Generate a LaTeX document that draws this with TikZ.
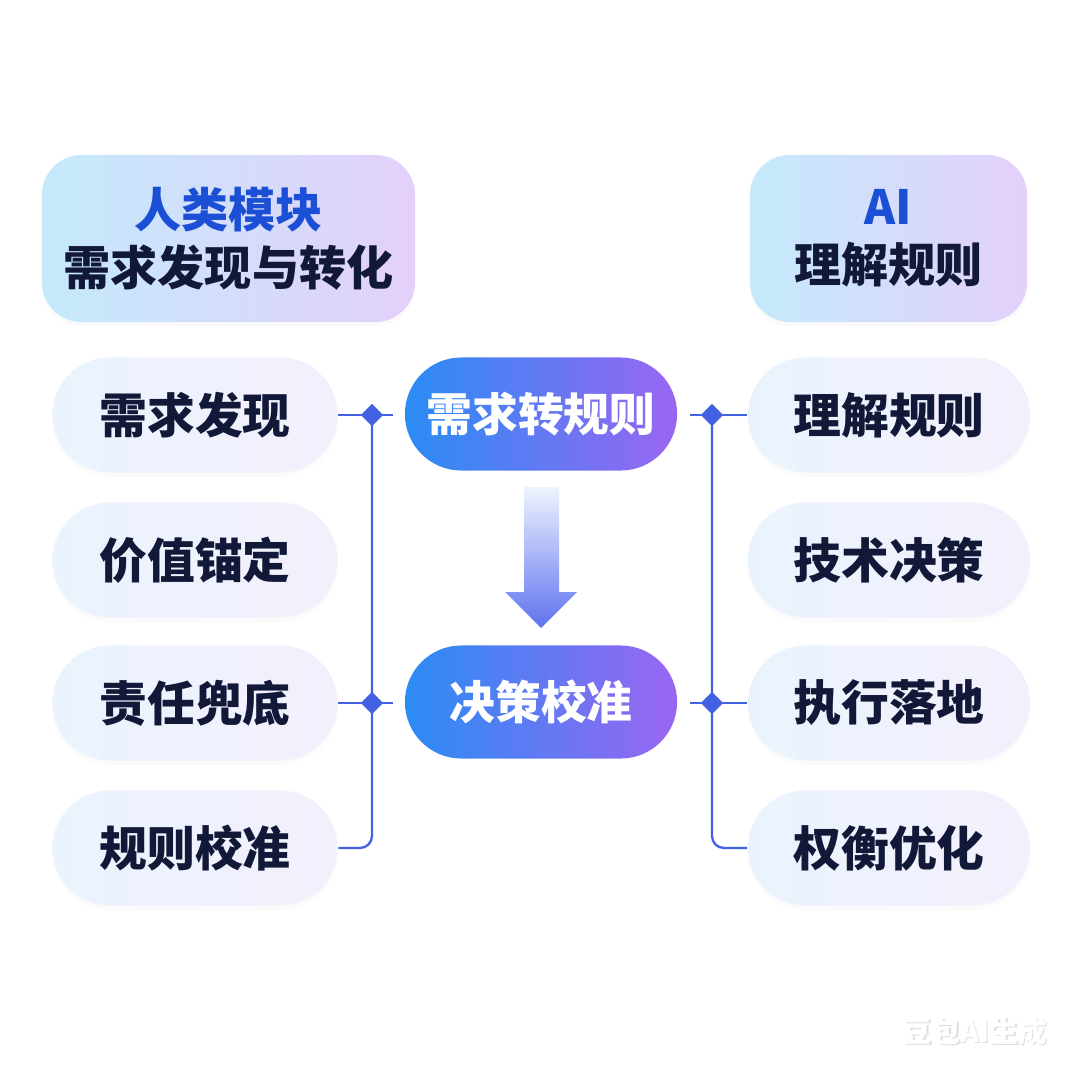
\documentclass[tikz,border=0pt]{standalone}
\usepackage{fontspec}
\newfontfamily\cjk{Noto Sans CJK SC}
\usetikzlibrary{shapes.geometric,shadows}
\definecolor{ink}{HTML}{121837}
\definecolor{titleblue}{HTML}{1B4FD6}
\definecolor{hdrL}{HTML}{C4EAFB}
\definecolor{hdrR}{HTML}{E4D0FA}
\definecolor{pillL}{HTML}{EAF3FD}
\definecolor{pillR}{HTML}{F3F0FC}
\definecolor{cL}{HTML}{2A8CF3}
\definecolor{cM}{HTML}{4C82F1}
\definecolor{cR}{HTML}{9A66F2}
\definecolor{lineC}{HTML}{4262E2}
\definecolor{arrT}{HTML}{EEF4FE}
\definecolor{arrB}{HTML}{6072EF}
\begin{document}
\begin{tikzpicture}[x=0.01cm,y=-0.01cm,
  header/.style={rounded corners=0.4cm, left color=hdrL, right color=hdrR, draw=none,
    minimum height=1.67cm, align=center, inner sep=0pt, text=ink,
    font=\cjk\bfseries\fontsize{13.4}{16.6}\selectfont,
    drop shadow={opacity=0.035, shadow xshift=0pt, shadow yshift=-1.2pt}},
  pill/.style={rounded corners=0.574cm, left color=pillL, right color=pillR, draw=none,
    minimum height=1.15cm, inner sep=0pt, text=ink,
    font=\cjk\bfseries\fontsize{13.6}{16}\selectfont,
    drop shadow={opacity=0.03, shadow xshift=0pt, shadow yshift=-1.2pt}},
  cpill/.style={rounded corners=0.564cm, left color=cL, middle color=cM, right color=cR, draw=none,
    minimum width=2.72cm, minimum height=1.13cm, inner sep=0pt, text=white,
    font=\cjk\bfseries\fontsize{13}{16}\selectfont},
  conn/.style={draw=lineC, line width=0.65pt},
  dia/.style={diamond, fill=lineC, draw=none, minimum width=0.23cm, minimum height=0.23cm, inner sep=0pt}
]
\useasboundingbox[fill=white] (0,0) rectangle (1080,1080);

% headers
\node[header, minimum width=3.73cm] (hl) at (228.5,238.5) {{\color{titleblue}人类模块}\\需求发现与转化};
\node[header, minimum width=2.77cm] (hr) at (888.5,238.5) {{\color{titleblue}AI}\\理解规则};

% left pills
\node[pill, minimum width=2.85cm] (l1) at (195,415) {需求发现};
\node[pill, minimum width=2.85cm] (l2) at (195,560) {价值锚定};
\node[pill, minimum width=2.85cm] (l3) at (195,703) {责任兜底};
\node[pill, minimum width=2.85cm] (l4) at (195,848) {规则校准};

% right pills
\node[pill, minimum width=2.82cm] (r1) at (889,415) {理解规则};
\node[pill, minimum width=2.82cm] (r2) at (889,560) {技术决策};
\node[pill, minimum width=2.82cm] (r3) at (889,703) {执行落地};
\node[pill, minimum width=2.82cm] (r4) at (889,848) {权衡优化};

% center pills
\node[cpill] (c1) at (541,414) {需求转规则};
\node[cpill] (c2) at (541,702) {决策校准};

% center arrow
\shade[top color=arrT, bottom color=arrB]
  (524,487) -- (559,487) -- (559,592) -- (577,592) -- (541,628) -- (505,592) -- (524,592) -- cycle;

% connector junctions
\coordinate (lj1) at (372,415);
\coordinate (lj3) at (372,703);
\coordinate (rj1) at (712,415);
\coordinate (rj3) at (712,703);
\coordinate (le1) at (393,415);
\coordinate (le3) at (393,703);
\coordinate (rs1) at (690,415);
\coordinate (rs3) at (690,703);

% left connectors
\draw[conn] (l1.east) -- (le1);
\draw[conn] (l3.east) -- (le3);
\draw[conn, rounded corners=0.12cm] (lj1) -- (lj1 |- l4.east) -- (l4.east);

% right connectors
\draw[conn] (rs1) -- (r1.west);
\draw[conn] (rs3) -- (r3.west);
\draw[conn, rounded corners=0.12cm] (rj1) -- (rj1 |- r4.west) -- (r4.west);

% diamonds
\node[dia] (dl1) at (lj1) {};
\node[dia] (dl3) at (lj3) {};
\node[dia] (dr1) at (rj1) {};
\node[dia] (dr3) at (rj3) {};

% watermark
\node[text=black!13, font=\cjk\bfseries\fontsize{8.2}{10}\selectfont] (wms) at (976.5,1032.5) {豆包AI生成};
\node[text=white, font=\cjk\bfseries\fontsize{8.2}{10}\selectfont] (wm) at (975,1031) {豆包AI生成};
\end{tikzpicture}
\end{document}
